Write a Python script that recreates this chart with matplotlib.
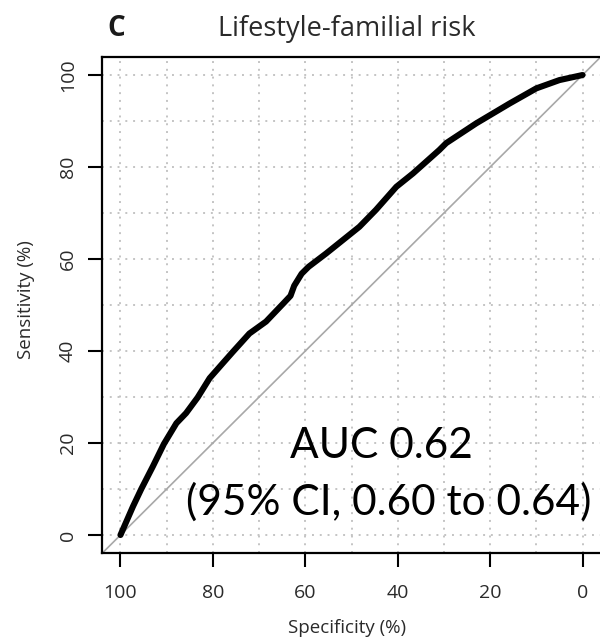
import matplotlib
matplotlib.use("Agg")
import matplotlib.pyplot as plt

# ROC curve of the lifestyle-familial risk model (values in %)
specificity = [100.0, 97.3, 95.5, 93.0, 90.6, 87.9, 85.8, 83.3, 80.7, 77.9, 75.7,
               72.1, 68.5, 64.7, 63.2, 62.4, 60.8, 59.3, 55.5, 51.9, 48.3, 44.7,
               40.3, 36.7, 31.0, 29.5, 23.0, 15.8, 10.0, 5.0, 0.0]
sensitivity = [0.0, 6.2, 10.0, 14.9, 19.8, 24.3, 26.5, 29.9, 34.1, 37.3, 39.8,
               43.8, 46.4, 50.4, 52.0, 54.2, 56.8, 58.3, 61.2, 64.1, 67.0, 70.7,
               75.7, 78.6, 83.7, 85.2, 89.5, 93.8, 97.1, 98.9, 100.0]
ticks = [100, 80, 60, 40, 20, 0]
grid_pos = [0, 10, 20, 30, 40, 50, 60, 70, 80, 90, 100]
auc_text = "AUC 0.62"
ci_text = "(95% CI, 0.60 to 0.64)"

plt.rcParams["font.family"] = ["Open Sans", "DejaVu Sans"]

fig = plt.figure(figsize=(6.0, 6.42), dpi=100)
ax = fig.add_axes([0.170, 0.138, 0.8317, 0.7738])

ax.set_xlim(104, -4)
ax.set_ylim(-4, 104)

# dotted background grid every 10 %
for g in grid_pos:
    ax.axvline(g, color="#c4c4c4", lw=1.4, dashes=(1, 3), zorder=1)
    ax.axhline(g, color="#c4c4c4", lw=1.4, dashes=(1, 3), zorder=1)

# chance diagonal
ax.axline((100, 0), (0, 100), color="#a8a8a8", lw=1.2, zorder=2)

# ROC curve
ax.plot(specificity, sensitivity, color="black", lw=4.4,
        solid_capstyle="round", solid_joinstyle="round", zorder=3)

ax.set_xticks(ticks)
ax.set_yticks(ticks)
ax.set_xticklabels([str(t) for t in ticks])
ax.set_yticklabels([str(t) for t in ticks], rotation=90, va="center")
ax.tick_params(axis="both", which="major", length=10, width=1.5,
               color="black", labelsize=14, labelcolor="#2a2a2a")
ax.tick_params(axis="x", pad=12)
ax.tick_params(axis="y", pad=8)

for side in ("left", "bottom", "top"):
    ax.spines[side].set_linewidth(1.6)
    ax.spines[side].set_color("black")
ax.spines["right"].set_visible(False)

ax.set_xlabel("Specificity (%)", fontsize=13.5, color="#2a2a2a", va="center")
ax.xaxis.set_label_coords(0.492, -0.150)
ax.set_ylabel("Sensitivity (%)", fontsize=13.5, color="#2a2a2a", va="center")
ax.yaxis.set_label_coords(-0.152, 0.51)

ax.text(0.491, 1.0415, "Lifestyle-familial risk", transform=ax.transAxes,
        ha="center", va="baseline", fontsize=19.5, color="#2a2a2a")
ax.text(0.028, 1.0415, "C", transform=ax.transAxes, ha="center",
        va="baseline", fontsize=20, fontweight="bold", color="#1a1a1a")

ax.text(43.5, 16.7, auc_text, ha="center", va="baseline", fontsize=30.5,
        family=["Lato", "DejaVu Sans"], color="black", zorder=4)
ax.text(42.0, 4.3, ci_text, ha="center", va="baseline", fontsize=30.5,
        family=["Lato", "DejaVu Sans"], color="black", zorder=4)

fig.savefig("out.png", dpi=100, facecolor="white")
